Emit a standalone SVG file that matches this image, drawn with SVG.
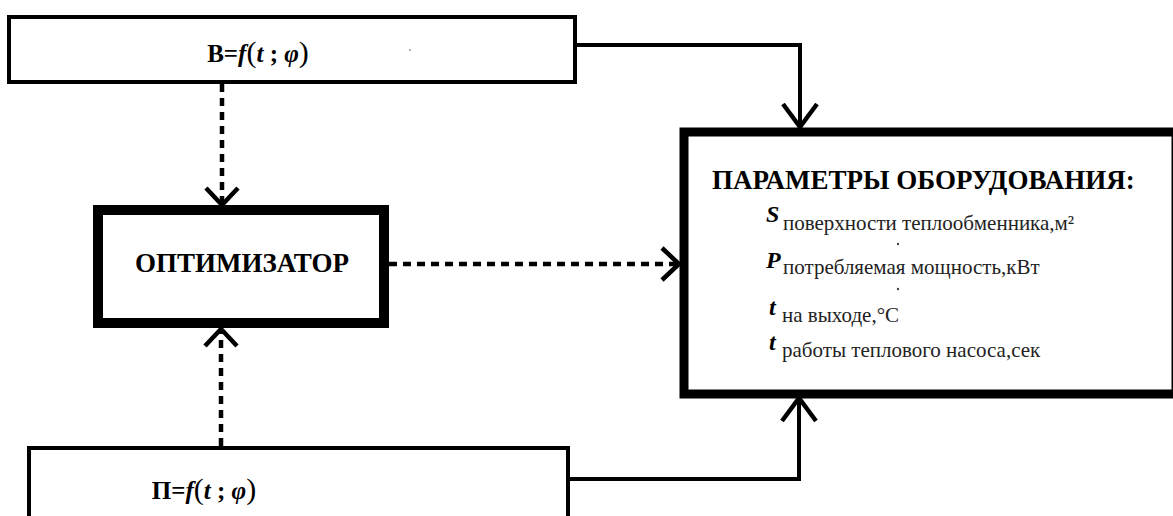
<svg xmlns="http://www.w3.org/2000/svg" width="1173" height="516" viewBox="0 0 1173 516">
<defs>
<marker id="ah" markerUnits="userSpaceOnUse" orient="auto" refX="0" refY="0" markerWidth="40" markerHeight="40" viewBox="-30 -20 40 40" overflow="visible">
<path d="M -23 -17 L 0 0 L -23 17" fill="none" stroke="#000" stroke-width="4.5"/>
</marker>
<marker id="ad" markerUnits="userSpaceOnUse" orient="auto" refX="0" refY="0" markerWidth="40" markerHeight="40" viewBox="-30 -20 40 40" overflow="visible">
<path d="M -17 -16 L 0 0 L -17 16" fill="none" stroke="#000" stroke-width="4.5"/>
</marker>
</defs>
<rect width="1173" height="516" fill="#fff"/>
<g id="connectors" fill="none" stroke="#000">
<path d="M 577 45 H 800 V 127" stroke-width="4" marker-end="url(#ah)"/>
<path d="M 568 479 H 799 V 398" stroke-width="4" marker-end="url(#ah)"/>
<path d="M 222 84 V 205" stroke-width="4.5" stroke-dasharray="8 6" marker-end="url(#ad)"/>
<path d="M 221 446 V 329" stroke-width="4.5" stroke-dasharray="8 6" marker-end="url(#ad)"/>
<path d="M 389 264 H 679" stroke-width="4.5" stroke-dasharray="8 6" marker-end="url(#ad)"/>
</g>
<g id="node-b">
<rect x="9" y="17" width="566" height="65" fill="#fff" stroke="#000" stroke-width="4"/>
<text x="258" y="62" font-size="25" text-anchor="middle" font-family="'Liberation Serif'" font-weight="bold"><tspan>В=</tspan><tspan font-style="italic">f</tspan><tspan font-size="30" font-weight="normal">(</tspan><tspan font-style="italic">t</tspan><tspan> ; </tspan><tspan font-style="italic">φ</tspan><tspan font-size="30" font-weight="normal">)</tspan></text>
<circle cx="410" cy="50" r="1" fill="#999"/>
</g>
<g id="node-optimizer">
<rect x="98" y="210" width="286" height="113" fill="#fff" stroke="#000" stroke-width="10"/>
<text x="242" y="272" font-size="27" text-anchor="middle" font-family="'Liberation Serif'" font-weight="bold">ОПТИМИЗАТОР</text>
</g>
<g id="node-p">
<rect x="29" y="448" width="539" height="100" fill="#fff" stroke="#000" stroke-width="4"/>
<text x="204" y="499" font-size="25" text-anchor="middle" font-family="'Liberation Serif'" font-weight="bold"><tspan>П=</tspan><tspan font-style="italic">f</tspan><tspan font-size="30" font-weight="normal">(</tspan><tspan font-style="italic">t</tspan><tspan> ; </tspan><tspan font-style="italic">φ</tspan><tspan font-size="30" font-weight="normal">)</tspan></text>
</g>
<g id="node-params">
<rect x="684" y="132" width="492" height="262" fill="#fff" stroke="#000" stroke-width="9"/>
<text x="712" y="189" font-size="27" font-family="'Liberation Serif'" font-weight="bold">ПАРАМЕТРЫ ОБОРУДОВАНИЯ:</text>
<text x="766" y="222" font-size="24" font-family="'Liberation Serif'" font-weight="bold" font-style="italic">S</text>
<text x="783" y="230" font-size="21" font-family="'Liberation Serif'" fill="#222">поверхности теплообменника,м²</text>
<circle cx="898" cy="244" r="1.2" fill="#444"/>
<text x="766" y="268" font-size="24" font-family="'Liberation Serif'" font-weight="bold" font-style="italic">P</text>
<text x="783" y="274" font-size="21" font-family="'Liberation Serif'" fill="#222">потребляемая мощность,кВт</text>
<circle cx="898" cy="289" r="1.2" fill="#444"/>
<text x="769" y="315" font-size="24" font-family="'Liberation Serif'" font-weight="bold" font-style="italic">t</text>
<text x="782" y="322" font-size="21" font-family="'Liberation Serif'" fill="#222">на выходе,°С</text>
<text x="769" y="350" font-size="24" font-family="'Liberation Serif'" font-weight="bold" font-style="italic">t</text>
<text x="782" y="357" font-size="21" font-family="'Liberation Serif'" fill="#222">работы теплового насоса,сек</text>
</g>
</svg>
